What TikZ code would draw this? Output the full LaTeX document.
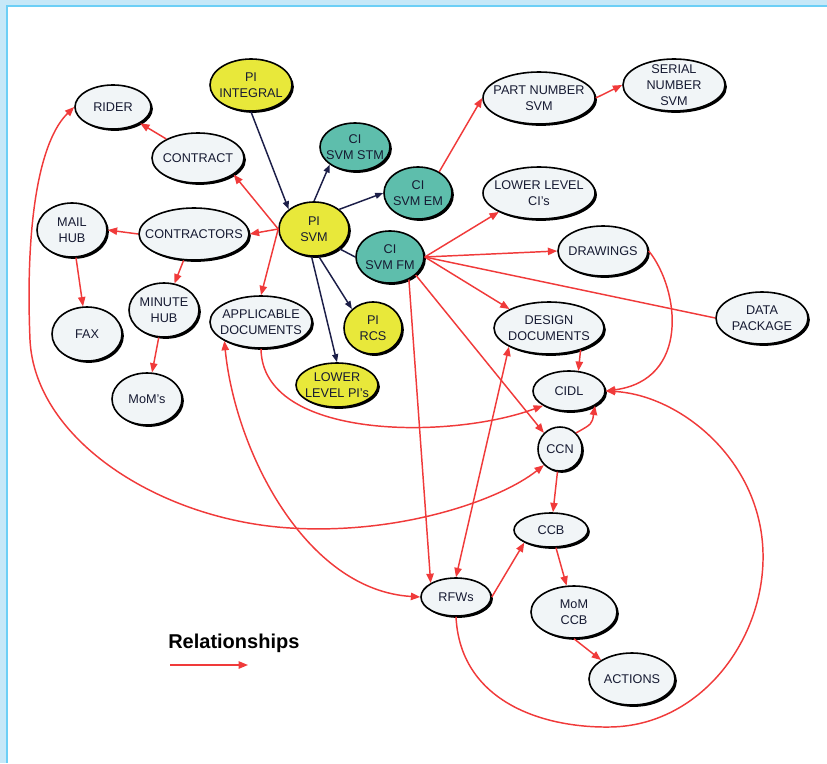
\documentclass[tikz,border=0pt]{standalone}
\usepackage{fontspec}
\setmainfont{Liberation Sans}
\usepackage{tikz}
\usetikzlibrary{arrows.meta,shapes.geometric,shadows}
\definecolor{paleblue}{RGB}{198,232,248}
\definecolor{rimblue}{RGB}{108,207,246}
\definecolor{bubblefill}{RGB}{241,245,247}
\definecolor{pifill}{RGB}{232,232,58}
\definecolor{cifill}{RGB}{94,190,172}
\definecolor{relred}{RGB}{240,58,58}
\definecolor{linknavy}{RGB}{28,30,72}
\definecolor{inkblue}{RGB}{22,26,50}

\begin{document}
\begin{tikzpicture}[x=0.75pt,y=-0.75pt,
  bubble/.style={ellipse,draw=black,line width=1.2pt,fill=bubblefill,
    inner xsep=-25pt,inner ysep=-10pt,align=center,text=inkblue,
    font=\fontsize{9.5}{12}\selectfont,
    drop shadow={shadow xshift=1.4pt,shadow yshift=-1.4pt,opacity=1,fill=black}},
  pibub/.style={bubble,fill=pifill},
  cibub/.style={bubble,fill=cifill},
  sz/.style 2 args={minimum width=#1*0.75pt,minimum height=#2*0.75pt},
  relline/.style={relred,line width=1.1pt},
  rel/.style={relline,-{Triangle[length=7pt,width=5.5pt]}},
  relboth/.style={relline,{Triangle[length=7pt,width=5.5pt]}-{Triangle[length=7pt,width=5.5pt]}},
  hier/.style={linknavy,line width=1.1pt,-{Triangle[length=6pt,width=4.5pt]}}]
  \useasboundingbox (0,0) rectangle (827,763);
  \fill[paleblue] (0,0) rectangle (827,5);
  \fill[paleblue] (0,0) rectangle (6,763);
  \fill[rimblue] (6,5) rectangle (827,7);
  \fill[rimblue] (6,5) rectangle (8,763);

  \node[pibub,sz={82}{52}] (integral) at (251,85) {PI\\INTEGRAL};
  \node[bubble,sz={76}{44}] (rider) at (113,107) {RIDER};
  \node[bubble,sz={92}{50}] (contract) at (198,158) {CONTRACT};
  \node[cibub,sz={70}{48}] (stm) at (355,147) {CI\\SVM STM};
  \node[cibub,sz={68}{52}] (em) at (418,193) {CI\\SVM EM};
  \node[pibub,sz={70}{54}] (svm) at (314,229) {PI\\SVM};
  \node[cibub,sz={68}{52}] (fm) at (390,257) {CI\\SVM FM};
  \node[bubble,sz={70}{54}] (mail) at (72,230) {MAIL\\HUB};
  \node[bubble,sz={110}{52}] (ctr) at (194,234) {CONTRACTORS};
  \node[bubble,sz={70}{54}] (minute) at (164,310) {MINUTE\\HUB};
  \node[bubble,sz={70}{54}] (fax) at (87,334) {FAX};
  \node[bubble,sz={102}{52}] (appdoc) at (261,322) {APPLICABLE\\DOCUMENTS};
  \node[pibub,sz={58}{52}] (rcs) at (373,328) {PI\\RCS};
  \node[pibub,sz={82}{44}] (llpi) at (337,385) {LOWER\\LEVEL PI's};
  \node[bubble,sz={70}{52}] (moms) at (147,399) {MoM's};
  \node[bubble,sz={112}{52}] (pn) at (539,98) {PART NUMBER\\SVM};
  \node[bubble,sz={102}{52}] (sn) at (674,85) {SERIAL\\NUMBER\\SVM};
  \node[bubble,sz={112}{52}] (llci) at (539,193) {LOWER LEVEL\\CI's};
  \node[bubble,sz={90}{50}] (drw) at (603,251) {DRAWINGS};
  \node[bubble,sz={92}{52}] (dp) at (762,318) {DATA\\PACKAGE};
  \node[bubble,sz={110}{52}] (dd) at (549,328) {DESIGN\\DOCUMENTS};
  \node[bubble,sz={72}{40}] (cidl) at (569,391) {CIDL};
  \node[bubble,sz={44}{44}] (ccn) at (560,449) {CCN};
  \node[bubble,sz={74}{34}] (ccb) at (551,530) {CCB};
  \node[bubble,sz={86}{52}] (momccb) at (574,612) {MoM\\CCB};
  \node[bubble,sz={86}{52}] (act) at (632,679) {ACTIONS};
  \node[bubble,sz={70}{38}] (rfw) at (456,597) {RFWs};

  \draw[hier] (integral.south) -- (svm.north west);
  \draw[hier] (svm.north) -- (stm.south west);
  \draw[hier] (svm.north east) -- (em.west);
  \draw[linknavy,line width=1.1pt] (svm.south east) -- (fm.west);
  \draw[hier] (svm.-80) -- (rcs.north west);
  \draw[hier] (svm.-95) -- (llpi.north);

  \draw[rel] (contract) -- (rider);
  \draw[rel] (svm.west) -- (contract.-25);
  \draw[rel] (svm.west) -- (ctr.east);
  \draw[rel] (svm.west) -- (appdoc.north);
  \draw[rel] (ctr.west) -- (mail.east);
  \draw[rel] (ctr) -- (minute);
  \draw[rel] (mail) -- (fax);
  \draw[rel] (minute) -- (moms);
  \draw[rel] (em.45) -- (pn.west);
  \draw[rel] (pn.east) -- (sn.west);
  \draw[rel] (fm.east) -- (llci.south west);
  \draw[rel] (fm.east) -- (drw.west);
  \draw[relline] (fm.east) -- (dp.west);
  \draw[rel] (fm.east) -- (dd.north west);
  \draw[rel] (fm.-35) -- (ccn.north west);
  \draw[rel] (fm.-50) -- (rfw.north west);
  \draw[rel] (drw.east) .. controls (680,290) and (690,380) .. (cidl.east);
  \draw[rel] (dd.-35) -- (cidl.65);
  \draw[rel] (appdoc.south) .. controls (262,440) and (450,440) .. (cidl.south west);
  \draw[rel] (ccn.north east) .. controls (592,424) .. (cidl.south east);
  \draw[rel] (ccn) -- (ccb);
  \draw[rel] (ccb) -- (momccb);
  \draw[rel] (momccb.south) -- (act.north west);
  \draw[rel] (rfw.east) -- (ccb.south west);
  \draw[relboth] (rfw.north) -- (dd.205);
  \draw[relboth] (appdoc.south west) .. controls (235,450) and (305,590) .. (rfw.west);
  \draw[relboth] (rider.west) .. controls (40,140) and (25,220) .. (30,340)
    .. controls (35,440) and (160,520) .. (290,528)
    .. controls (400,535) and (500,500) .. (ccn.south west);
  \draw[rel] (rfw.south) .. controls (460,700) and (540,728) .. (610,727)
    .. controls (700,726) and (765,640) .. (763,553)
    .. controls (761,460) and (680,395) .. (cidl.east);

  \node[font=\bfseries\fontsize{15}{18}\selectfont,anchor=base west,inner sep=0pt] (legend) at (168,648) {Relationships};
  \coordinate (lga) at (170,665);
  \coordinate (lgb) at (248,665);
  \draw[rel] (lga) -- (lgb);
\end{tikzpicture}
\end{document}
